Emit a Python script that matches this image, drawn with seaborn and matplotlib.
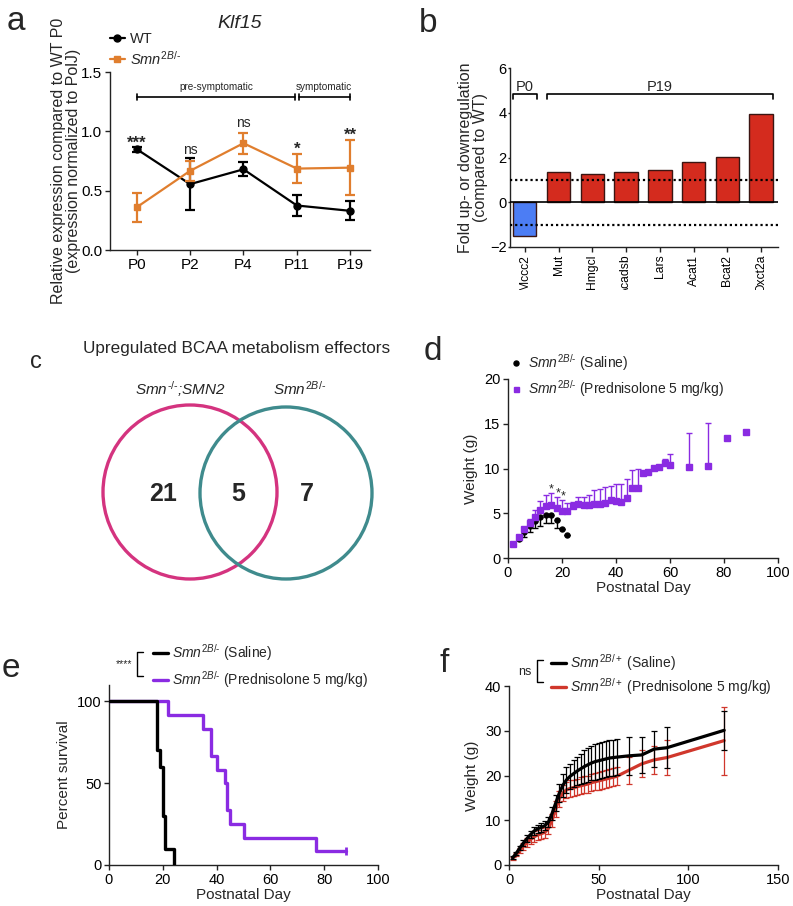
import numpy as np
import pandas as pd
import matplotlib
matplotlib.use("Agg")
import matplotlib.pyplot as plt
import seaborn as sns
from matplotlib.lines import Line2D
from matplotlib.patches import Circle
from matplotlib.transforms import Bbox, TransformedBbox

HY = "\u2010"  # hyphen for genotype superscripts

# ---------------- data ----------------
# panel a
timepoints = ["P0", "P2", "P4", "P11", "P19"]
wt_mean = [0.85, 0.555, 0.68, 0.375, 0.33]
wt_err = [0.02, 0.22, 0.06, 0.09, 0.08]
smn_mean = [0.36, 0.667, 0.90, 0.686, 0.694]
smn_err = [0.12, 0.085, 0.087, 0.12, 0.23]
sig_labels = ["***", "ns", "ns", "*", "**"]
sig_y = [0.90, 0.845, 1.07, 0.85, 0.97]

# panel b
genes = ["Mccc2", "Mut", "Hmgcl", "Acadsb", "Lars", "Acat1", "Bcat2", "Oxct2a"]
fold_change = [-1.49, 1.33, 1.28, 1.36, 1.46, 1.79, 2.03, 3.93]

# panel c
venn_labels = [r"$\mathit{Smn}^{\mathit{" + HY + "/" + HY + r"}}$;SMN2",
               r"$\mathit{Smn}^{\mathit{2B/" + HY + r"}}$"]
venn_counts = [21, 5, 7]

# panel d
d_days_saline = [2, 4, 6, 8, 10, 12, 14, 16, 18, 20, 22]
d_saline = [1.56, 2.15, 2.9, 3.53, 4.16, 4.57, 4.83, 4.76, 4.2, 3.23, 2.6]
d_saline_err = [0, 0.18, 0.5, 0.67, 0.81, 0.97, 0.93, 0.86, 0.85, 0, 0]
d_days_pred = [2, 4, 6, 8, 10, 12, 14, 16, 18, 20, 22, 24, 26, 28, 30, 32, 34, 36, 38, 40,
               42, 44, 46, 48, 50, 52, 54, 56, 58, 60, 67, 74, 81, 88]
d_pred = [1.56, 2.34, 3.23, 3.9, 4.57, 5.4, 5.84, 5.95, 5.54, 5.28, 5.2, 5.76, 6.0, 5.95,
          5.95, 6.0, 6.0, 6.2, 6.43, 6.36, 6.25, 6.7, 7.8, 7.8, 9.5, 9.6, 10.1, 10.2,
          10.65, 10.4, 10.2, 10.3, 13.4, 14.05]
d_pred_err = [0, 0.16, 0.27, 0.5, 0.83, 1.0, 1.22, 1.35, 1.26, 1.15, 0.93, 0.54, 0.8, 0.85,
              1.11, 1.55, 1.7, 1.7, 1.67, 1.89, 2.05, 2.1, 2.0, 2.1, 0, 0, 0, 0,
              0.45, 1.25, 3.75, 4.75, 0, 0]
star_days = [16, 18.7, 20.6]
star_y = [7.7, 7.25, 6.85]

# panel e (Kaplan-Meier)
e_saline_days = [18, 18, 18, 19, 20, 20, 20, 21, 21, 24]
e_saline_event = [1, 1, 1, 1, 1, 1, 1, 1, 1, 1]
e_pred_days = [22, 35, 38, 38, 40, 43, 44, 44, 45, 50, 77, 88]
e_pred_event = [1, 1, 1, 1, 1, 1, 1, 1, 1, 1, 1, 0]

# panel f
f_days = [2, 4, 6, 8, 10, 12, 14, 16, 18, 20, 22, 24, 26, 28, 30, 32, 34, 36, 38, 40,
          42, 44, 46, 48, 50, 52, 54, 56, 58, 60, 67, 74, 81, 88, 120]
f_saline = [1.6, 2.6, 3.8, 4.9, 5.9, 6.8, 7.6, 8.1, 8.4, 8.8, 9.6, 11.5, 13.8, 16.0, 17.8,
            19.0, 19.8, 20.4, 21.0, 21.5, 22.0, 22.4, 22.8, 23.1, 23.3, 23.5, 23.7, 23.9,
            24.0, 24.1, 24.4, 24.6, 25.9, 26.2, 30.1]
f_saline_err = [0.3, 0.4, 0.5, 0.6, 0.7, 0.8, 0.9, 0.9, 1.0, 1.0, 1.1, 1.5, 1.8, 2.0, 2.5,
                2.8, 2.8, 3.0, 3.2, 3.4, 3.6, 3.8, 3.9, 4.0, 4.0, 4.0, 4.0, 4.0, 4.0, 4.0,
                4.3, 4.1, 4.1, 4.6, 4.4]
f_pred = [1.5, 2.3, 3.2, 4.2, 5.0, 5.7, 6.3, 6.7, 7.0, 7.3, 8.2, 10.0, 12.5, 14.8, 16.0,
          16.8, 17.1, 17.3, 17.5, 17.7, 17.9, 18.1, 18.4, 18.6, 18.8, 19.0, 19.2, 19.4,
          19.6, 19.8, 21.2, 22.6, 23.5, 24.0, 27.8]
f_pred_err = [0.3, 0.4, 0.6, 0.8, 1.0, 1.1, 1.2, 1.2, 1.2, 1.2, 1.3, 1.5, 1.7, 1.8, 1.8,
              1.8, 1.8, 1.8, 1.8, 1.9, 1.9, 1.9, 1.9, 1.9, 2.0, 2.0, 2.0, 2.0, 2.0, 2.0,
              3.0, 3.0, 3.2, 3.9, 7.6]

# ---------------- style ----------------
sns.set_theme(style="ticks")
plt.rcParams["font.family"] = ["Liberation Sans", "DejaVu Sans"]
plt.rcParams["mathtext.fontset"] = "custom"
plt.rcParams["mathtext.rm"] = "Liberation Sans"
plt.rcParams["mathtext.it"] = "Liberation Sans:italic"
plt.rcParams["mathtext.bf"] = "Liberation Sans:bold"

ORANGE = "#E07E2E"
BLUE = "#4C7DF4"
RED = "#D42B1E"
PURPLE = "#8A2BE2"
FRED = "#D0372C"
MAGENTA = "#D4337F"
TEAL = "#3F8B8D"
SPINE = "#222222"

W, H = 793, 906
fig = plt.figure(figsize=(W / 100, H / 100), dpi=100)


def rect(l, t, r, b):
    return [l / W, 1 - b / H, (r - l) / W, (b - t) / H]


def fx(x):
    return x / W


def fy(y):
    return 1 - y / H


def style(ax, labelsize=10.5):
    sns.despine(ax=ax)
    for s in ["left", "bottom"]:
        ax.spines[s].set_linewidth(1.0)
        ax.spines[s].set_color(SPINE)
    ax.tick_params(direction="out", length=3.5, width=1.0, color=SPINE,
                   labelsize=labelsize, pad=2, labelcolor="black")
    ax.set_facecolor("white")


def letter(x, y, s, size=24):
    fig.text(fx(x), fy(y), s, fontsize=size, va="baseline", ha="left")


def geno(sup):
    return r"$\mathit{Smn}^{\mathit{" + sup + r"}}$"


# ---------------- panel a ----------------
axa = fig.add_axes(rect(110, 72, 370, 250))
style(axa, 11)
xa = np.arange(len(timepoints))
axa.errorbar(xa, wt_mean, yerr=wt_err, color="black", lw=1.6, marker="o", ms=5,
             capsize=3.6, capthick=1.6, elinewidth=1.6, zorder=3)
axa.errorbar(xa, smn_mean, yerr=smn_err, color=ORANGE, lw=1.6, marker="s", ms=5,
             capsize=3.6, capthick=1.6, elinewidth=1.6, zorder=4)
for xi, s, yy in zip(xa, sig_labels, sig_y):
    axa.text(xi, yy, s, ha="center", va="center",
             fontsize=12 if "*" in s else 10, fontweight="bold" if "*" in s else "normal")
axa.set_xlim(-0.5, 4.37)
axa.set_ylim(0, 1.5)
axa.set_yticks([0, 0.5, 1.0, 1.5])
axa.set_yticklabels(["0.0", "0.5", "1.0", "1.5"])
axa.set_xticks(xa)
axa.set_xticklabels(timepoints)
by = 1.29
axa.plot([0, 0], [by - 0.025, by + 0.025], color="black", lw=1.2, clip_on=False)
axa.plot([0, 2.96], [by, by], color="black", lw=1.2, clip_on=False)
axa.plot([2.96, 2.96], [by - 0.025, by + 0.025], color="black", lw=1.2, clip_on=False)
axa.plot([3.04, 3.04], [by - 0.025, by + 0.025], color="black", lw=1.2, clip_on=False)
axa.plot([3.04, 4], [by, by], color="black", lw=1.2, clip_on=False)
axa.plot([4, 4], [by - 0.025, by + 0.025], color="black", lw=1.2, clip_on=False)
axa.text(1.5, 1.37, "pre-symptomatic", ha="center", va="center", fontsize=7.2)
axa.text(3.5, 1.37, "symptomatic", ha="center", va="center", fontsize=7.2)
axa.set_ylabel("Relative expression compared to WT P0\n(expression normalized to PolJ)",
               fontsize=11.5, labelpad=0, linespacing=1.0)
fig.text(fx(240), fy(28), "Klf15", fontsize=14, fontstyle="italic", ha="center", va="baseline")
ha_a = [Line2D([0], [0], color="black", lw=1.6, marker="o", ms=5),
        Line2D([0], [0], color=ORANGE, lw=1.6, marker="s", ms=5)]
fig.legend(ha_a, ["WT", geno("2B/" + HY)], loc="upper left",
           bbox_to_anchor=(fx(110), fy(32)), frameon=False, fontsize=10.5,
           handlelength=1.0, handletextpad=0.4, labelspacing=0.25, borderpad=0,
           borderaxespad=0)
letter(7, 30, "a", 24)

# ---------------- panel b ----------------
axb = fig.add_axes(rect(510, 68, 778, 247))
style(axb, 10.5)
axb.tick_params(axis="y", pad=0.5, length=1.8)
dfb = pd.DataFrame({"gene": genes, "fold": fold_change})
bar_colors = [BLUE if v < 0 else RED for v in fold_change]
sns.barplot(data=dfb, x="gene", y="fold", hue="gene", palette=bar_colors, legend=False,
            ax=axb, width=0.69, edgecolor="#3b1512", linewidth=1.0, saturation=1)
axb.axhline(0, color="black", lw=1.2, zorder=5)
axb.axhline(1, color="black", lw=1.6, ls=(0, (1, 1.3)), zorder=5)
axb.axhline(-1, color="black", lw=1.6, ls=(0, (1, 1.3)), zorder=5)
axb.set_xlim(-0.44, 7.5)
axb.set_ylim(-2, 6)
axb.set_yticks([-2, 0, 2, 4, 6])
axb.set_xlabel("")
axb.set_ylabel("Fold up- or downregulation\n(compared to WT)", fontsize=11.5,
               labelpad=1.5, linespacing=1.0)
axb.tick_params(axis="x", labelrotation=90, labelsize=8.7)
axb.plot([-0.35, -0.35, 0.35, 0.35], [4.62, 4.82, 4.82, 4.62], color="black", lw=1.2,
         clip_on=False)
axb.plot([0.65, 0.65, 7.35, 7.35], [4.62, 4.82, 4.82, 4.62], color="black", lw=1.2,
         clip_on=False)
axb.text(0, 5.15, "P0", ha="center", va="center", fontsize=10.5)
axb.text(4, 5.15, "P19", ha="center", va="center", fontsize=10.5)
clipbox = TransformedBbox(Bbox([[0, fy(290)], [1, 1]]), fig.transFigure)
for t in axb.get_xticklabels():
    t.set_clip_on(True)
    t.set_clip_box(clipbox)
letter(419, 32, "b", 24)

# ---------------- panel c ----------------
axc = fig.add_axes([0, fy(620), 400 / W, 320 / H])
axc.set_xlim(0, 400)
axc.set_ylim(620, 300)
axc.axis("off")
axc.add_patch(Circle((190, 492), 87, fill=False, ec=MAGENTA, lw=2.4))
axc.add_patch(Circle((286, 493), 86, fill=False, ec=TEAL, lw=2.4))
axc.text(237, 348, "Upregulated BCAA metabolism effectors", ha="center", va="center",
         fontsize=12.3)
axc.text(180, 389, venn_labels[0], ha="center", va="center", fontsize=11,
         fontstyle="italic")
axc.text(300, 389, venn_labels[1], ha="center", va="center", fontsize=11)
for xc, n in zip([163, 238, 307], venn_counts):
    axc.text(xc, 494, str(n), ha="center", va="center", fontsize=18, fontweight="bold")
letter(30, 368, "c", 17)

# ---------------- panel d ----------------
axd = fig.add_axes(rect(508, 379, 778, 558))
style(axd, 10.5)
axd.errorbar(d_days_saline, d_saline, yerr=[d_saline_err, np.zeros(len(d_saline_err))],
             fmt="o", color="black", ms=3.6, elinewidth=1.0, capsize=2.0, capthick=1.0,
             zorder=3)
axd.errorbar(d_days_pred, d_pred, yerr=[np.zeros(len(d_pred_err)), d_pred_err],
             fmt="s", color=PURPLE, ms=3.8, elinewidth=1.0, capsize=2.0, capthick=1.0,
             zorder=4)
for sx, sy in zip(star_days, star_y):
    axd.text(sx, sy, "*", ha="center", va="center", fontsize=9)
axd.set_xlim(0, 100)
axd.set_ylim(0, 20)
axd.set_xticks([0, 20, 40, 60, 80, 100])
axd.set_yticks([0, 5, 10, 15, 20])
axd.set_xlabel("Postnatal Day", fontsize=11, labelpad=1)
axd.set_ylabel("Weight (g)", fontsize=11, labelpad=4)
hd = [Line2D([0], [0], color="black", marker="o", ms=3.6, lw=0),
      Line2D([0], [0], color=PURPLE, marker="s", ms=3.6, lw=0)]
fig.legend(hd, [geno("2B/" + HY) + " (Saline)",
                geno("2B/" + HY) + " (Prednisolone 5 mg/kg)"],
           loc="upper left", bbox_to_anchor=(fx(510), fy(352)), frameon=False,
           fontsize=10, handlelength=0.8, handletextpad=0.5, labelspacing=0.35,
           borderpad=0, borderaxespad=0)
letter(424, 360, "d", 24)


# ---------------- panel e ----------------
def km_steps(days, events):
    days = np.asarray(days)
    events = np.asarray(events)
    at_risk = len(days)
    surv = 100.0
    xs, ys = [0.0], [100.0]
    for t in np.unique(days):
        d = int(np.sum((days == t) & (events == 1)))
        c = int(np.sum((days == t) & (events == 0)))
        if d > 0:
            surv *= (1 - d / at_risk)
            xs.append(float(t))
            ys.append(surv)
        at_risk -= d + c
    xs.append(float(days.max()))
    ys.append(surv)
    return xs, ys


axe = fig.add_axes(rect(109, 685, 378, 865))
style(axe, 10.5)
px_, py_ = km_steps(e_pred_days, e_pred_event)
sx_, sy_ = km_steps(e_saline_days, e_saline_event)
axe.step(px_, py_, where="post", color=PURPLE, lw=2.4, zorder=3)
axe.plot([px_[-1]], [py_[-1]], marker="|", color=PURPLE, ms=6, mew=2)
axe.step(sx_, sy_, where="post", color="black", lw=2.4, zorder=4)
axe.set_xlim(0, 100)
axe.set_ylim(0, 110)
axe.set_xticks([0, 20, 40, 60, 80, 100])
axe.set_yticks([0, 50, 100])
axe.set_xlabel("Postnatal Day", fontsize=11, labelpad=1)
axe.set_ylabel("Percent survival", fontsize=11, labelpad=4)
he = [Line2D([0], [0], color="black", lw=2.4), Line2D([0], [0], color=PURPLE, lw=2.4)]
fig.legend(he, [geno("2B/" + HY) + " (Saline)",
                geno("2B/" + HY) + " (Prednisolone 5 mg/kg)"],
           loc="upper left", bbox_to_anchor=(fx(153), fy(642)), frameon=False,
           fontsize=10, handlelength=1.1, handletextpad=0.3, labelspacing=0.45,
           borderpad=0, borderaxespad=0)
fig.add_artist(Line2D([fx(143), fx(137), fx(137), fx(143)],
                      [fy(652), fy(652), fy(676), fy(676)], color="black", lw=1.0,
                      transform=fig.transFigure))
fig.text(fx(132), fy(664), "****", ha="right", va="center", fontsize=7.5)
letter(2, 677, "e", 24)

# ---------------- panel f ----------------
axf = fig.add_axes(rect(509, 686, 778, 865))
style(axf, 10.5)
axf.errorbar(f_days, f_pred, yerr=f_pred_err, color=FRED, lw=2.3, elinewidth=0.9,
             capsize=2.2, capthick=0.9, zorder=3)
axf.errorbar(f_days, f_saline, yerr=f_saline_err, color="black", lw=2.3, elinewidth=0.9,
             capsize=2.2, capthick=0.9, zorder=4)
axf.set_xlim(0, 150)
axf.set_ylim(0, 40)
axf.set_xticks([0, 50, 100, 150])
axf.set_yticks([0, 10, 20, 30, 40])
axf.set_xlabel("Postnatal Day", fontsize=11, labelpad=1)
axf.set_ylabel("Weight (g)", fontsize=11, labelpad=4)
hf = [Line2D([0], [0], color="black", lw=2.4), Line2D([0], [0], color=FRED, lw=2.4)]
fig.legend(hf, [geno("2B/+") + " (Saline)",
                geno("2B/+") + " (Prednisolone 5 mg/kg)"],
           loc="upper left", bbox_to_anchor=(fx(551), fy(652)), frameon=False,
           fontsize=10, handlelength=1.1, handletextpad=0.3, labelspacing=0.25,
           borderpad=0, borderaxespad=0)
fig.add_artist(Line2D([fx(543), fx(537), fx(537), fx(543)],
                      [fy(660), fy(660), fy(682), fy(682)], color="black", lw=1.0,
                      transform=fig.transFigure))
fig.text(fx(532), fy(672), "ns", ha="right", va="center", fontsize=9)
letter(440, 672, "f", 24)

fig.savefig("out.png", dpi=100, facecolor="white")
